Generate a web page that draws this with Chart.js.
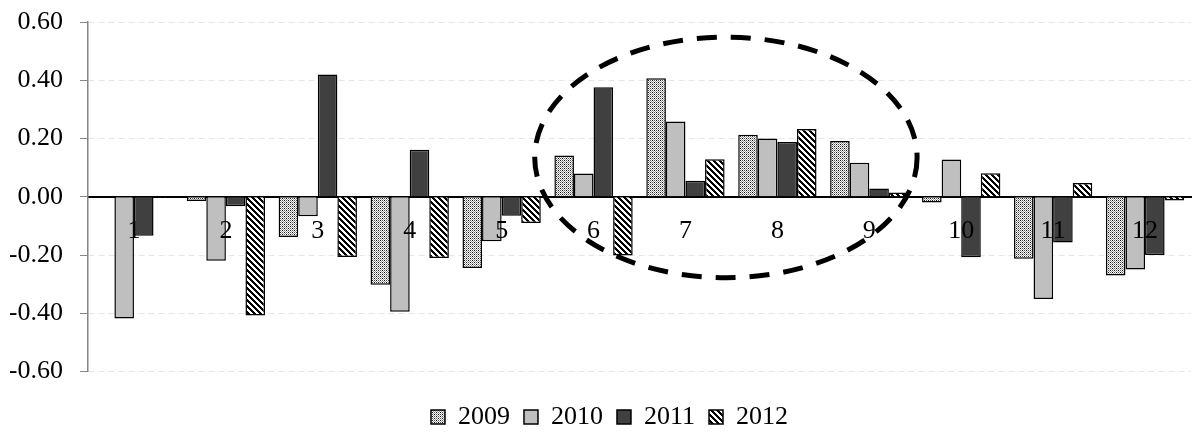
<!DOCTYPE html>
<html>
<head>
<meta charset="utf-8">
<script src="https://cdn.jsdelivr.net/npm/chart.js@4.4.1/dist/chart.umd.min.js"></script>
<style>
    body { margin: 0; background: #fff; }
    #wrap { width: 1192px; height: 436px; }
</style>
</head>
<body>
<div id="wrap"><canvas id="barChart"></canvas></div>
<script>
const months = ['1', '2', '3', '4', '5', '6', '7', '8', '9', '10', '11', '12'];
const years = ['2009', '2010', '2011', '2012'];
const values2009 = [0, -0.015, -0.138, -0.302, -0.245, 0.142, 0.407, 0.213, 0.191, -0.02, -0.213, -0.27];
const values2010 = [-0.418, -0.22, -0.067, -0.395, -0.153, 0.08, 0.258, 0.2, 0.117, 0.128, -0.351, -0.25];
const values2011 = [-0.134, -0.033, 0.42, 0.161, -0.065, 0.376, 0.055, 0.188, 0.028, -0.208, -0.157, -0.2];
const values2012 = [-0.003, -0.408, -0.207, -0.21, -0.09, -0.202, 0.129, 0.233, 0.015, 0.081, 0.047, -0.013];
const yTicks = [-0.6, -0.4, -0.2, 0, 0.2, 0.4, 0.6];
// dashed ring drawn round months 6-9 (category index / value units)
const highlight = { xCenter: 6.44, yCenter: 0.135, xRadius: 2.08, yRadius: 0.413 };

const serif = 'Liberation Serif, Times New Roman, serif';

function dotPattern() {
    let c = document.createElement('canvas');
    c.width = 4; c.height = 4;
    let g = c.getContext('2d');
    g.fillStyle = '#ffffff';
    g.fillRect(0, 0, 4, 4);
    g.fillStyle = '#111111';
    g.fillRect(0, 0, 1, 1);
    g.fillRect(2, 2, 1, 1);
    g.fillStyle = '#555555';
    g.fillRect(2, 0, 1, 1);
    g.fillRect(0, 2, 1, 1);
    g.fillStyle = '#a0a0a0';
    g.fillRect(1, 1, 1, 1);
    g.fillRect(3, 3, 1, 1);
    g.fillRect(1, 3, 1, 1);
    g.fillRect(3, 1, 1, 1);
    return g.createPattern(c, 'repeat');
}

function stripePattern() {
    let c = document.createElement('canvas');
    c.width = 6; c.height = 6;
    let g = c.getContext('2d');
    g.fillStyle = '#ffffff';
    g.fillRect(0, 0, 6, 6);
    g.fillStyle = '#000000';
    for (let y = 0; y < 6; y++) {
        for (let x = 0; x < 6; x++) {
            if (((x - y) % 6 + 6) % 6 < 3) g.fillRect(x, y, 1, 1);
        }
    }
    return g.createPattern(c, 'repeat');
}

const ringPlugin = {
    id: 'ring',
    afterLayout(chart) {
        // nudge the legend row a little to the right, like the original
        chart.legend.left += 9;
        chart.legend.right += 9;
    },
    afterDatasetsDraw(chart) {
        let xs = chart.scales.x, ys = chart.scales.y;
        let cx = xs.getPixelForValue(highlight.xCenter);
        let cy = ys.getPixelForValue(highlight.yCenter);
        let rx = xs.getPixelForValue(highlight.xCenter + highlight.xRadius) - cx;
        let ry = cy - ys.getPixelForValue(highlight.yCenter + highlight.yRadius);
        let ctx = chart.ctx;
        ctx.save();
        ctx.strokeStyle = '#000';
        ctx.lineWidth = 5;
        ctx.setLineDash([20, 14]);
        ctx.beginPath();
        ctx.ellipse(cx, cy, rx, ry, 0, 0, Math.PI * 2);
        ctx.stroke();
        ctx.restore();
    }
};

function loadChart() {
    let fills = [dotPattern(), '#bfbfbf', '#404040', stripePattern()];
    let series = [values2009, values2010, values2011, values2012];
    let datasets = years.map((y, i) => ({
        label: y,
        data: series[i],
        backgroundColor: fills[i],
        borderColor: '#000',
        borderWidth: 1.5
    }));

    new Chart('barChart', {
        type: 'bar',
        data: { labels: months, datasets: datasets },
        plugins: [ringPlugin],
        options: {
            responsive: true,
            maintainAspectRatio: false,
            animation: false,
            categoryPercentage: 0.852,
            barPercentage: 1,
            layout: { padding: { left: 10, right: 1, top: 22, bottom: -4 } },
            scales: {
                x: {
                    position: { y: 0 },
                    grid: { display: false, drawTicks: false },
                    border: { color: '#000', width: 2 },
                    afterFit: (scale) => {
                        scale.height = 0;
                        scale.paddingLeft = 0;
                        scale.paddingRight = 0;
                    },
                    ticks: {
                        color: '#000',
                        padding: 19,
                        maxRotation: 0,
                        autoSkip: false,
                        z: 1,
                        font: { family: serif, size: 26 }
                    }
                },
                y: {
                    min: -0.6,
                    max: 0.6,
                    afterBuildTicks: (scale) => {
                        scale.ticks = yTicks.map(v => ({ value: v }));
                    },
                    afterFit: (scale) => {
                        scale.width = 78;
                        scale.paddingTop = 0;
                        scale.paddingBottom = 0;
                    },
                    grid: {
                        color: '#e6e6e6',
                        tickColor: '#868686',
                        tickLength: 8
                    },
                    border: { color: '#868686', width: 1.5, dash: [6, 4] },
                    ticks: {
                        color: '#000',
                        padding: 17,
                        font: { family: serif, size: 26 },
                        callback: (v) => Number(v).toFixed(2)
                    }
                }
            },
            plugins: {
                tooltip: { enabled: false },
                legend: {
                    position: 'bottom',
                    title: { display: true, text: '', padding: { top: 0, bottom: 8.5 }, font: { size: 10, lineHeight: 1 } },
                    labels: {
                        color: '#000',
                        boxWidth: 14,
                        boxHeight: 14,
                        padding: 14,
                        font: { family: serif, size: 26 }
                    }
                }
            }
        }
    });
}

loadChart();
</script>
</body>
</html>
